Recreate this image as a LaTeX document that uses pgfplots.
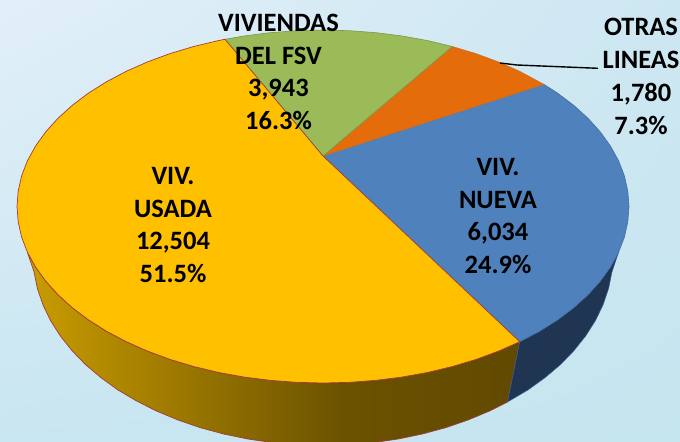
\documentclass[border=0pt]{standalone}
\usepackage{pgfplots}
\pgfplotsset{compat=1.18}
\usepackage{fontspec}
\setmainfont{Carlito}
\usetikzlibrary{shadings}
\definecolor{cyellow}{HTML}{FFC000}
\definecolor{cblue}{HTML}{4F81BD}
\definecolor{cgreen}{HTML}{9BBB59}
\definecolor{corange}{HTML}{E46C0A}
\definecolor{cdblue}{HTML}{1F3552}
\definecolor{credge}{HTML}{A03C3C}
\definecolor{wa}{HTML}{C99C00}
\definecolor{wb}{HTML}{6B5200}
\definecolor{wc}{HTML}{614900}
\pgfdeclarehorizontalshading{wallyellow}{100bp}{color(0bp)=(wa); color(25bp)=(wa); color(57bp)=(wb); color(75bp)=(wc); color(100bp)=(wc)}
\begin{document}
\begin{tikzpicture}
\begin{axis}[
  scale only axis, width=680bp, height=441bp,
  xmin=0, xmax=680, ymin=0, ymax=441, y dir=reverse,
  hide axis, clip=true,
  every axis plot/.append style={line join=round}
]
\path[shading=bilinear interpolation, shade,
  upper left={rgb,255:red,226;green,239;blue,248},
  upper right={rgb,255:red,205;green,231;blue,242},
  lower left={rgb,255:red,200;green,230;blue,241},
  lower right={rgb,255:red,197;green,229;blue,239}]
  (axis cs:0,441) rectangle (axis cs:680,0);

% side walls
\addplot[shade, shading=wallyellow, draw=credge, line width=0.7bp] coordinates {
(27.4,252.2)(35.5,266.9)(45.7,281.1)(58,294.75)(72.3,307.7)(88.6,320)(106.6,331.3)(126.3,341.7)(147.5,351.1)(170,359.4)(193.7,366.5)(218.3,372.4)(243.8,377)(269.9,380.3)(296.3,382.3)(323,383)(349.7,382.3)(376.1,380.3)(402.2,377)(427.7,372.4)(452.3,366.5)(476,359.4)(498.5,351.1)(519.7,341.7)
(507.5,402)(489.3,411.1)(468,420)(445.6,427.7)(422.2,434)(398.1,439)(373.3,442.6)(348.3,444.8)(323,445.5)(297.7,444.8)(272.7,442.6)(247.9,439)(223.8,434)(200.4,427.7)(178,420)(156.7,411.1)(136.6,401)(117.9,389.9)(100.9,377.6)(85.4,364.5)(71.9,350.5)(60.2,335.8)(50.5,320.5)(42.9,304.7)(37.4,288.5)(34.1,272.1)
} -- cycle;
\addplot[fill=cdblue, draw=cblue!60!cdblue, line width=0.5bp] coordinates {
(519.7,341.7)(539.4,331.3)(557.4,320)(573.7,307.7)(588,294.75)(600.3,281.1)(610.5,266.9)(618.6,252.2)
(611.9,272.1)(608.6,288.5)(603.1,304.7)(595.5,320.5)(585.8,335.8)(574.1,350.5)(560.6,364.5)(545.1,377.6)(528.1,389.9)(507.5,402)
} -- cycle;

% top: VIV. NUEVA
\addplot[fill=cblue, draw=cblue!85!black, line width=0.6bp] coordinates {
(323,156)(544,84.4)(557.4,93)(573.7,105.3)(588,118.25)(600.3,131.9)(610.5,146.1)(618.6,160.8)(624.4,175.9)(627.8,191.1)(629,206.5)(627.8,221.9)(624.4,237.1)(618.6,252.2)(610.5,266.9)(600.3,281.1)(588,294.75)(573.7,307.7)(557.4,320)(539.4,331.3)(519.7,341.7)
} -- cycle;
% top: OTRAS LINEAS
\addplot[fill=corange, draw=corange!80!cblue, line width=0.5bp] coordinates {
(323,156)(452.3,46.5)(476,53.6)(498.5,61.9)(519.7,71.3)(544,84.4)
} -- cycle;
% top: VIVIENDAS DEL FSV
\addplot[fill=cgreen, draw=cgreen!80!black, line width=0.6bp] coordinates {
(323,156)(225,39.3)(243.8,36)(269.9,32.7)(296.3,30.7)(323,30)(349.7,30.7)(376.1,32.7)(402.2,36)(427.7,40.6)(452.3,46.5)
} -- cycle;
% top: VIV. USADA
\addplot[fill=cyellow, draw=credge, line width=0.7bp] coordinates {
(323,156)(225,39.3)(218.3,40.6)(193.7,46.5)(170,53.6)(147.5,61.9)(126.3,71.3)(106.6,81.7)(88.6,93)(72.3,105.3)(58,118.25)(45.7,131.9)(35.5,146.1)(27.4,160.8)(21.6,175.9)(18.2,191.1)(17,206.5)(18.2,221.9)(21.6,237.1)(27.4,252.2)(35.5,266.9)(45.7,281.1)(58,294.75)(72.3,307.7)(88.6,320)(106.6,331.3)(126.3,341.7)(147.5,351.1)(170,359.4)(193.7,366.5)(218.3,372.4)(243.8,377)(269.9,380.3)(296.3,382.3)(323,383)(349.7,382.3)(376.1,380.3)(402.2,377)(427.7,372.4)(452.3,366.5)(476,359.4)(498.5,351.1)(519.7,341.7)
} -- cycle;

% leader line
\addplot[black, line width=1.4bp] coordinates {(500,63)(517,65)(598,68.3)};

\tikzset{lab/.style={align=center, inner sep=0pt, text=black,
  font=\fontsize{26.5bp}{32.8bp}\selectfont\bfseries}}
\node[lab] at (axis cs:278.5,72) {VIVIENDAS\\DEL FSV\\3,943\\16.3\%};
\node[lab] at (axis cs:641,76.5) {OTRAS\\LINEAS\\1,780\\7.3\%};
\node[lab] at (axis cs:498,216) {VIV.\\NUEVA\\6,034\\24.9\%};
\node[lab] at (axis cs:173,225) {VIV.\\USADA\\12,504\\51.5\%};
\end{axis}
\end{tikzpicture}
\end{document}
